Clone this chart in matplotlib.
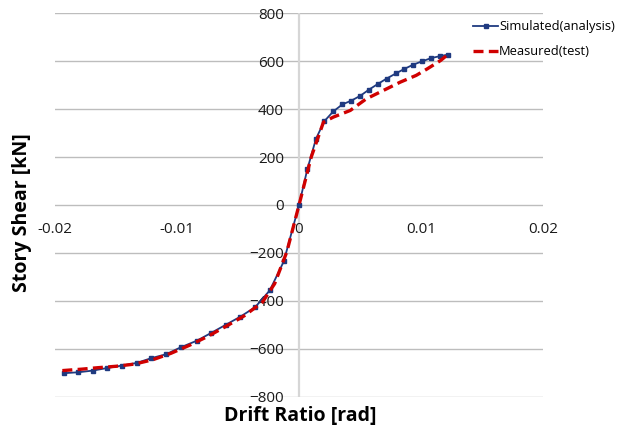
# Story shear vs drift ratio: simulated pushover curve against the test envelope.

import matplotlib.pyplot as plt
from matplotlib.lines import Line2D

# Simulated(analysis), marker by marker
sim_drift = [-0.0193, -0.0181, -0.0169, -0.0157, -0.0145, -0.0133, -0.0121, -0.0109,
             -0.0097, -0.0084, -0.0072, -0.0060, -0.0048, -0.0036, -0.0024, -0.00125,
             0.0, 0.00068, 0.00139, 0.00207, 0.00281, 0.00355, 0.00429, 0.00502,
             0.00574, 0.00648, 0.00719, 0.00793, 0.00863, 0.00937, 0.01011, 0.01082,
             0.01153, 0.01224]
sim_shear = [-701, -697, -690, -679, -669, -658, -638, -622,
             -593, -566, -533, -499, -465, -426, -356, -235,
             0, 149, 276, 349, 390, 419, 435, 455,
             481, 505, 527, 548, 567, 585, 599, 612,
             620, 627]

# Measured(test)
test_drift = [-0.0194, -0.0178, -0.0165, -0.0150, -0.0135, -0.0120, -0.0105, -0.0090,
              -0.0075, -0.0060, -0.0045, -0.0030, -0.0020, -0.0010, 0.0, 0.0010,
              0.0020, 0.0028, 0.0042, 0.0055, 0.0069, 0.0083, 0.0096, 0.0105,
              0.0116, 0.0121]
test_shear = [-690, -684, -678, -672, -663, -645, -618, -585,
              -548, -506, -462, -405, -328, -195, 0, 200,
              345, 366, 394, 442, 477, 512, 540, 567,
              602, 623]

x_ticks = [-0.02, -0.01, 0, 0.01, 0.02]
x_tick_labels = ['-0.02', '-0.01', '0', '0.01', '0.02']
y_ticks = [-800, -600, -400, -200, 0, 200, 400, 600, 800]

plt.rcParams['font.family'] = ['Open Sans', 'DejaVu Sans']

blue = '#1F3A80'
red = '#D00000'

fig = plt.figure(figsize=(6.31, 4.25), dpi=100)
ax = fig.add_axes([0.0872, 0.0659, 0.7734, 0.9035])

ax.set_xlim(-0.02, 0.02)
ax.set_ylim(-800, 800)

# horizontal gridlines only, plus the grey vertical axis at 0
for yv in y_ticks:
    ax.axhline(yv, color='#BDBDBD', lw=1.0, zorder=0)
ax.axvline(0, color='#D6D6D6', lw=1.6, zorder=0)

ax.plot(sim_drift, sim_shear, color=blue, lw=1.3, marker='s', ms=3,
        zorder=3)
ax.plot(test_drift, test_shear, color=red, lw=2.4, ls=(0, (3, 1.6)),
        zorder=4)

# axes cross at the origin, as in Excel; the spines themselves are hidden
ax.spines['left'].set_position(('data', 0))
ax.spines['bottom'].set_position(('data', 0))
for s in ax.spines.values():
    s.set_color('none')

ax.set_xticks(x_ticks)
ax.set_xticklabels(x_tick_labels)
ax.set_yticks(y_ticks)
ax.tick_params(length=0, labelsize=11, colors='#1a1a1a')
ax.tick_params(axis='x', pad=12)
ax.tick_params(axis='y', pad=11)

fig.text(0.476, 0.022, 'Drift Ratio [rad]', ha='center', va='center',
         fontsize=14, fontweight='bold')
fig.text(0.035, 0.5, 'Story Shear [kN]', ha='center', va='center',
         rotation=90, fontsize=14, fontweight='bold')

handles = [Line2D([], [], color=blue, lw=1.3, marker='s', ms=3),
           Line2D([], [], color=red, lw=2.4, ls=(0, (3, 1.6)))]
fig.legend(handles, ['Simulated(analysis)', 'Measured(test)'],
           loc='upper left', bbox_to_anchor=(0.742, 0.965), frameon=False,
           fontsize=9.3, handlelength=1.9, handletextpad=0.1, labelspacing=0.95,
           borderaxespad=0)

fig.savefig('out.png', dpi=100)
